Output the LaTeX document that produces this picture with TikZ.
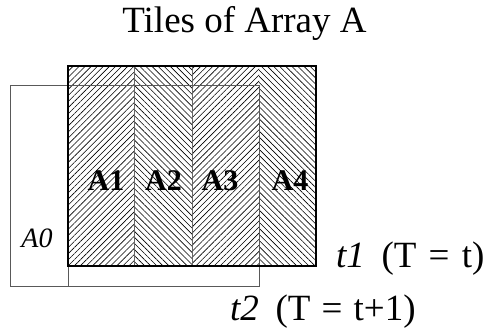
\documentclass[tikz,border=0pt]{standalone}
\usepackage{fontspec}
\setmainfont{Liberation Serif}
\usetikzlibrary{patterns.meta}
\tikzset{
  hatchNE/.style={pattern={Lines[angle=45,distance=4.3bp,line width=0.6bp]}},
  hatchNW/.style={pattern={Lines[angle=-45,distance=4.3bp,line width=0.6bp]}},
  thinbox/.style={draw=black!65,line width=0.9bp},
  divider/.style={draw=black!60,line width=0.6bp},
  mainbox/.style={draw=black,line width=1.4bp},
  tilelabel/.style={font=\fontsize{30bp}{33bp}\selectfont\bfseries,inner sep=0pt,anchor=base},
  biglabel/.style={font=\fontsize{37bp}{42bp}\selectfont,inner sep=0pt,anchor=base west},
}
\begin{document}
\begin{tikzpicture}[x=1bp,y=-1bp]
\useasboundingbox (0,0) rectangle (483,334);
% corners
\coordinate (t1nw) at (68,66);
\coordinate (t1se) at (316,266);
\coordinate (t2nw) at (10,85);
\coordinate (t2se) at (259,286);
% tiles of t1
\path[hatchNE] (68,66) rectangle (134,266);
\path[hatchNW] (134,66) rectangle (192,266);
\path[hatchNE] (192,66) rectangle (259,266);
\path[hatchNW] (259,66) rectangle (316,266);
\draw[divider] (134,66) -- (134,266);
\draw[divider] (192,66) -- (192,266);
% t2 outline
\draw[thinbox] (t2nw) rectangle (t2se);
\draw[thinbox] (68,85) -- (68,286);
% t1 outline
\draw[mainbox] (t1nw) rectangle (t1se);
% labels
\node[font=\fontsize{37bp}{42bp}\selectfont,inner sep=0pt,anchor=base] (title) at (244.5,32) {Tiles of Array A};
\node[tilelabel] (a1) at (106,190) {A1};
\node[tilelabel] (a2) at (163.5,190) {A2};
\node[tilelabel] (a3) at (220,190) {A3};
\node[tilelabel] (a4) at (290,190) {A4};
\node[font=\fontsize{28bp}{31bp}\selectfont\itshape,inner sep=0pt,anchor=base] (a0) at (37,247) {A0};
\node[biglabel] (t1) at (336,267) {\textit{t1}\hspace{0.45em}(T\hspace{0.33em}=\hspace{0.33em}t)};
\node[biglabel] (t2) at (230,320) {\textit{t2}\hspace{0.45em}(T\hspace{0.3em}=\hspace{0.3em}t+1)};
\end{tikzpicture}
\end{document}
